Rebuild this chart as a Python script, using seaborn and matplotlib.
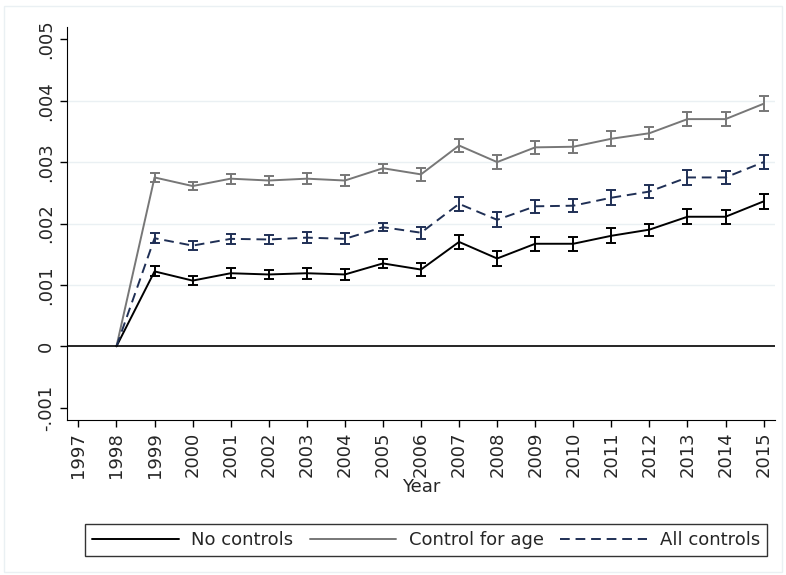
import numpy as np
import pandas as pd
import matplotlib.pyplot as plt
import seaborn as sns

years = list(range(1998, 2016))
no_controls = [0, .00122, .00107, .00119, .00117, .00119, .00117, .00135, .00125, .00170,
               .00143, .00167, .00167, .00180, .00190, .00211, .00211, .00236]
age_control = [0, .00275, .00261, .00273, .00270, .00273, .00270, .00290, .00280, .00327,
               .00300, .00324, .00325, .00338, .00347, .00370, .00370, .00395]
all_controls = [0, .00176, .00164, .00175, .00174, .00177, .00175, .00194, .00185, .00232,
                .00206, .00228, .00229, .00242, .00252, .00275, .00275, .00300]
half_ci = [0, .00008, .00007, .00008, .00008, .00009, .00009, .00007, .00010, .00011,
           .00012, .00011, .00011, .00012, .00010, .00012, .00011, .00012]


def main():
    sns.set_style("white")
    plt.rcParams['font.family'] = ['DejaVu Sans']
    df = pd.DataFrame({"year": years * 3,
                       "coef": no_controls + age_control + all_controls,
                       "series": ["No controls"] * 18 + ["Control for age"] * 18 + ["All controls"] * 18})

    fig = plt.figure(figsize=(7.86, 5.75), dpi=100, facecolor='w')
    ax = fig.add_axes([67 / 786, 1 - 420 / 575, 708 / 786, 393 / 575])
    palette = {"No controls": "black", "Control for age": "#777777", "All controls": "#1f2f55"}
    sns.lineplot(data=df, x="year", y="coef", hue="series", style="series", palette=palette,
                 dashes={"No controls": "", "Control for age": "", "All controls": (5, 3)},
                 linewidth=1.4, ax=ax, legend=False)
    for name, vals in [("No controls", no_controls), ("Control for age", age_control),
                       ("All controls", all_controls)]:
        ax.errorbar(years[1:], vals[1:], yerr=half_ci[1:], fmt='none', ecolor=palette[name],
                    elinewidth=1.4, capsize=3.5, capthick=1.4)
    ax.axhline(0, color='black', lw=1.2)

    ax.set_xlim(1996.7, 2015.3)
    ax.set_ylim(-0.0012, 0.0052)
    ax.set_xticks(range(1997, 2016))
    ax.set_xticklabels([str(y) for y in range(1997, 2016)], rotation=90, fontsize=13)
    yt = [-0.001, 0, 0.001, 0.002, 0.003, 0.004, 0.005]
    ax.set_yticks(yt)
    ax.set_yticklabels(["-.001", "0", ".001", ".002", ".003", ".004", ".005"],
                       rotation=90, va='center', fontsize=13)
    for v in yt[2:6]:
        ax.axhline(v, color='#eaf0f3', lw=1, zorder=0)
    ax.tick_params(axis='both', length=5, width=1, color='black', direction='out',
                   bottom=True, left=True)
    for s in ['top', 'right']:
        ax.spines[s].set_visible(False)
    for s in ['left', 'bottom']:
        ax.spines[s].set_color('black')
    ax.set_xlabel("Year", fontsize=13, labelpad=0)
    ax.set_ylabel("")

    from matplotlib.lines import Line2D
    handles = [Line2D([], [], color='black', lw=1.4),
               Line2D([], [], color='#777777', lw=1.4),
               Line2D([], [], color='#1f2f55', lw=1.4, dashes=(5, 3))]
    fig.legend(handles, ["No controls", "Control for age", "All controls"], ncol=3,
               loc='center', bbox_to_anchor=(426 / 786, 1 - 540 / 575), fontsize=13,
               frameon=True, fancybox=False, edgecolor='black', handlelength=4.8,
               handletextpad=0.7, columnspacing=0.9, borderpad=0.4)
    fig.patches.append(plt.Rectangle((0.005, 0.005), 0.99, 0.985, transform=fig.transFigure,
                                     fill=False, edgecolor='#eaf0f3', lw=1))
    fig.savefig("out.png", dpi=100)


if __name__ == "__main__":
    main()
